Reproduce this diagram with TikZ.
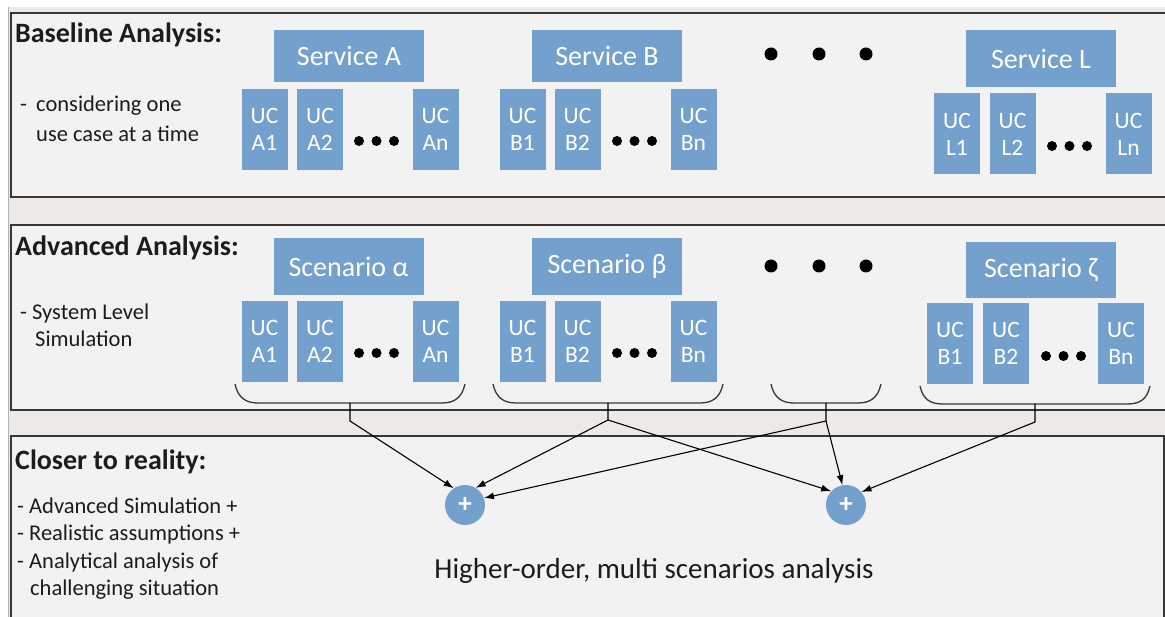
\documentclass[tikz,border=0pt]{standalone}
\usepackage{fontspec}
\setmainfont{Carlito}
\usetikzlibrary{arrows.meta}
\definecolor{boxblue}{RGB}{116,160,205}
\definecolor{panelbg}{RGB}{242,242,242}
\definecolor{bandbg}{RGB}{236,233,230}
\definecolor{edgecol}{RGB}{55,55,55}
\definecolor{txt}{RGB}{28,28,28}
\tikzset{
  panel/.style={draw=edgecol, line width=1.4pt, fill=panelbg},
  svc/.style={fill=boxblue, text=white, inner sep=0pt, minimum width=150pt, minimum height=52pt, font=\fontsize{28}{32}\selectfont},
  uc/.style={fill=boxblue, text=white, inner sep=0pt, minimum width=46pt, minimum height=81pt, align=center, font=\fontsize{23.5}{27}\selectfont},
  sdot/.style={circle, fill=black, inner sep=0pt, minimum size=10pt},
  bdot/.style={circle, fill=black, inner sep=0pt, minimum size=13pt},
  title/.style={anchor=base west, inner sep=0pt, text=txt, font=\bfseries\fontsize{28}{32}\selectfont},
  body/.style={anchor=base west, inner sep=0pt, text=txt, font=\fontsize{22.5}{27}\selectfont},
  plusnode/.style={circle, fill=boxblue, text=white, inner sep=0pt, minimum size=40pt, font=\bfseries\fontsize{27}{27}\selectfont},
  bracestyle/.style={draw=edgecol, line width=1.3pt},
  arr/.style={draw=black, line width=1.1pt, -{Latex[length=10pt,width=7pt]}},
}
\begin{document}
\begin{tikzpicture}[x=1pt,y=-1pt]
\useasboundingbox (0,0) rectangle (1165,617);
\clip (0,0) rectangle (1165,617);
\fill[white] (0,0) rectangle (1165,617);
\fill[bandbg] (8,7) rectangle (1165,617);
\draw[gray!60, line width=1pt] (8,7) -- (8,617);
% panels
\draw[panel] (11,13) rectangle (1180,197);
\draw[panel] (11,225) rectangle (1180,410);
\draw[panel] (11,436) rectangle (1164,630);

% ---------- panel 1 ----------
\node[title] (t1) at (15,43) {Baseline Analysis:};
\node[body] (d1a) at (20,112) {-};
\node[body] (d1b) at (36,112) {considering one};
\node[body] (d1c) at (36,142) {use case at a time};

\node[svc] (sA) at (349,56) {Service A};
\node[svc] (sB) at (607,56) {Service B};
\node[svc, minimum height=57pt] (sL) at (1041,59) {Service L};

\node[uc] (ua1) at (264.5,129.5) {UC\\A1};
\node[uc] (ua2) at (320,129.5) {UC\\A2};
\node[uc] (uan) at (435.5,129.5) {UC\\An};
\node[sdot] (da1) at (359,141) {};
\node[sdot] (da2) at (376.5,141) {};
\node[sdot] (da3) at (394,141) {};

\node[uc] (ub1) at (522.5,129.5) {UC\\B1};
\node[uc] (ub2) at (577.5,129.5) {UC\\B2};
\node[uc] (ubn) at (693.5,129.5) {UC\\Bn};
\node[sdot] (db1) at (617,141) {};
\node[sdot] (db2) at (634.5,141) {};
\node[sdot] (db3) at (652,141) {};

\node[uc] (ul1) at (957,134) {UC\\L1};
\node[uc] (ul2) at (1012.5,134) {UC\\L2};
\node[uc] (uln) at (1128.5,134) {UC\\Ln};
\node[sdot] (dl1) at (1052,146) {};
\node[sdot] (dl2) at (1069.5,146) {};
\node[sdot] (dl3) at (1087,146) {};

\node[bdot] (g1) at (771,54) {};
\node[bdot] (g2) at (819,54) {};
\node[bdot] (g3) at (866,54) {};

% ---------- panel 2 ----------
\node[title] (t2) at (15,256) {Advanced Analysis:};
\node[body] (d2a) at (20,320) {- System Level};
\node[body] (d2b) at (35,347) {Simulation};

\node[svc, minimum height=57pt] (scA) at (348.5,266.5) {Scenario α};
\node[svc, minimum height=57pt] (scB) at (607,266.5) {Scenario β};
\node[svc, minimum height=56pt] (scZ) at (1041,270) {Scenario ζ};

\node[uc] (va1) at (264.5,341.5) {UC\\A1};
\node[uc] (va2) at (320,341.5) {UC\\A2};
\node[uc] (van) at (435.5,341.5) {UC\\An};
\node[sdot] (ea1) at (359,353) {};
\node[sdot] (ea2) at (376.5,353) {};
\node[sdot] (ea3) at (394,353) {};

\node[uc] (vb1) at (522.5,341.5) {UC\\B1};
\node[uc] (vb2) at (577.5,341.5) {UC\\B2};
\node[uc] (vbn) at (693.5,341.5) {UC\\Bn};
\node[sdot] (eb1) at (617,353) {};
\node[sdot] (eb2) at (634.5,353) {};
\node[sdot] (eb3) at (652,353) {};

\node[uc] (vz1) at (950,343.5) {UC\\B1};
\node[uc] (vz2) at (1006,343.5) {UC\\B2};
\node[uc] (vzn) at (1121,343.5) {UC\\Bn};
\node[sdot] (ez1) at (1046,356) {};
\node[sdot] (ez2) at (1063.5,356) {};
\node[sdot] (ez3) at (1081,356) {};

\node[bdot] (h1) at (771,266) {};
\node[bdot] (h2) at (819,266) {};
\node[bdot] (h3) at (866,266) {};

% braces
\draw[bracestyle] (235,384) .. controls (238,398) and (246,403) .. (258,403) -- (442,403) .. controls (454,403) and (462,398) .. (465,384);
\draw[bracestyle] (493,384) .. controls (496,398) and (504,403) .. (516,403) -- (700,403) .. controls (712,403) and (720,398) .. (723,384);
\draw[bracestyle] (771,384) .. controls (774,398) and (782,403) .. (794,403) -- (858,403) .. controls (870,403) and (878,398) .. (881,384);
\draw[bracestyle] (920,386) .. controls (923,400) and (931,404) .. (943,404) -- (1127,404) .. controls (1139,404) and (1147,400) .. (1150,386);

\coordinate (b1) at (350,403);
\coordinate (b2) at (608,403);
\coordinate (b3) at (826,403);
\coordinate (b4) at (1035,404);
\coordinate (s1) at (350,421);
\coordinate (s2) at (608,420);
\coordinate (s3) at (826,421);
\coordinate (s4) at (1035,422);

% ---------- panel 3 ----------
\node[title] (t3) at (15,469) {Closer to reality:};
\node[body] (d3a) at (17,513) {- Advanced Simulation +};
\node[body] (d3b) at (17,540) {- Realistic assumptions +};
\node[body] (d3c) at (17,568) {- Analytical analysis of};
\node[body] (d3d) at (30,595) {challenging situation};

\node[plusnode] (c1) at (465,505) {+};
\node[plusnode] (c2) at (846,505) {+};

\node[anchor=base, inner sep=0pt, text=txt, font=\fontsize{29}{32}\selectfont] (hl) at (654,578) {Higher-order, multi scenarios analysis};

% connectors
\draw[arr] (b1) -- (s1) -- (c1.124);
\draw[arr] (b2) -- (s2) -- (c1.58);
\draw[arr] (s2) -- (c2.137);
\draw[arr] (b3) -- (s3) -- (c2.100);
\draw[arr] (s3) -- (c1.20);
\draw[arr] (b4) -- (s4) -- (c2.40);
\end{tikzpicture}
\end{document}
